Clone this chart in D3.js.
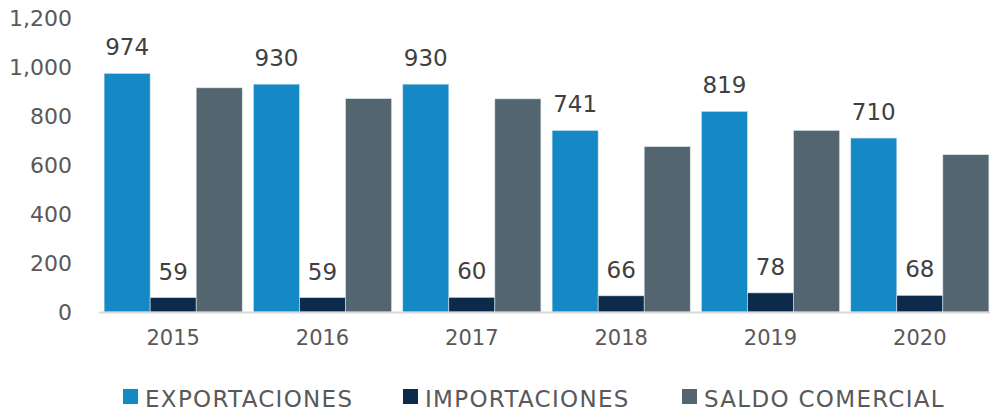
<!DOCTYPE html>
<meta charset="utf-8">
<head>
    <title>Balanza comercial</title>
    <style>
        body { margin: 0; background: #ffffff; }
        text { font-family: "DejaVu Sans", sans-serif; }
    </style>
</head>
<body>
<div id="my_dataviz"></div>
<script src="https://d3js.org/d3.v7.min.js"></script>
<script>

    // data
    var years = ["2015", "2016", "2017", "2018", "2019", "2020"];
    var exportaciones = [974, 930, 930, 741, 819, 710];
    var importaciones = [59, 59, 60, 66, 78, 68];
    var saldoComercial = [915, 871, 870, 675, 741, 642];
    var yTicks = [0, 200, 400, 600, 800, 1000, 1200];
    var seriesNames = ["EXPORTACIONES", "IMPORTACIONES", "SALDO COMERCIAL"];

    var colors = ["#1588c6", "#0c2a4a", "#53656f"];

    var W = 990, H = 412;
    var margin = {top: 18, right: 0, bottom: 100, left: 98.5};

    var svg = d3.select("#my_dataviz")
        .append("svg")
        .attr("width", W)
        .attr("height", H);

    var x = d3.scaleBand()
        .domain(years)
        .range([margin.left, 994.5])
        .paddingInner(0)
        .paddingOuter(0);

    var sub = d3.scaleBand()
        .domain([0, 1, 2])
        .range([5.6, x.bandwidth() - 5.6]);

    var y = d3.scaleLinear()
        .domain([0, 1200])
        .range([312, margin.top]);

    // y axis labels (no line)
    var yAxis = svg.append("g")
        .attr("transform", "translate(72,0)")
        .call(d3.axisLeft(y).tickValues(yTicks).tickFormat(d3.format(",")).tickSize(0).tickPadding(0));
    yAxis.select(".domain").remove();
    yAxis.selectAll("text")
        .style("font-size", "22px")
        .attr("fill", "#595959");

    // bars
    var series = [exportaciones, importaciones, saldoComercial];
    series.forEach(function(vals, s) {
        svg.selectAll(null)
            .data(vals)
            .enter()
            .append("rect")
            .attr("x", function(d, i) { return x(years[i]) + sub(s); })
            .attr("y", function(d) { return y(d); })
            .attr("width", sub.bandwidth())
            .attr("height", function(d) { return y(0) - y(d); })
            .attr("fill", colors[s])
            .attr("stroke", "#d6e4ec")
            .attr("stroke-width", 0.6);
    });

    // x axis
    var xAxis = svg.append("g")
        .attr("transform", "translate(0," + y(0) + ")")
        .call(d3.axisBottom(x).tickSize(0).tickPadding(18));
    xAxis.select(".domain")
        .attr("stroke", "#d9d9d9")
        .attr("stroke-width", 2);
    xAxis.selectAll("text")
        .style("font-size", "21px")
        .attr("fill", "#595959");

    // data labels for exportaciones and importaciones
    [0, 1].forEach(function(s) {
        svg.selectAll(null)
            .data(series[s])
            .enter()
            .append("text")
            .attr("x", function(d, i) { return x(years[i]) + sub(s) + sub.bandwidth() / 2; })
            .attr("y", function(d) { return y(d) - 18; })
            .attr("text-anchor", "middle")
            .style("font-size", "23px")
            .attr("fill", "#404040")
            .text(function(d) { return d; });
    });

    // legend
    var legendX = [123, 403, 682];
    var legend = svg.selectAll(".legend")
        .data(seriesNames)
        .enter()
        .append("g")
        .attr("class", "legend")
        .attr("transform", function(d, i) { return "translate(" + legendX[i] + ",389)"; });
    legend.append("rect")
        .attr("width", 15)
        .attr("height", 15)
        .attr("fill", function(d, i) { return colors[i]; });
    legend.append("text")
        .attr("x", 22)
        .attr("y", 17.5)
        .style("font-size", "23px")
        .style("letter-spacing", "1.3px")
        .attr("fill", "#595959")
        .text(function(d) { return d; });

</script>
</body>
